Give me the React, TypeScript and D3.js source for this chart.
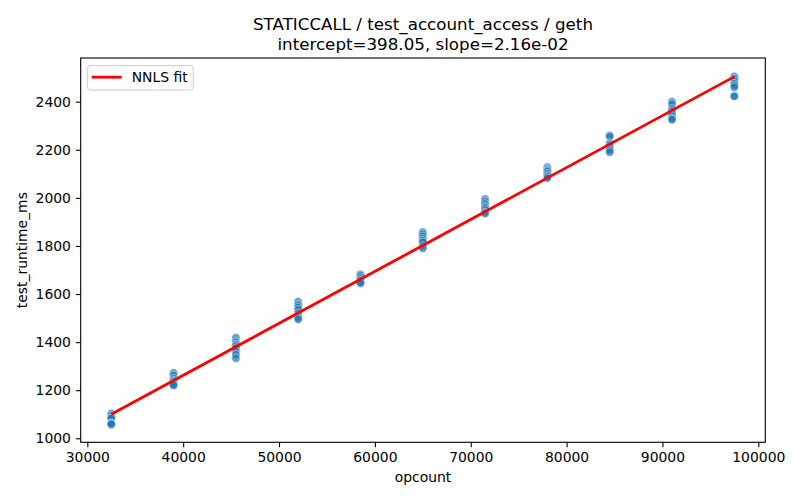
import React, { useEffect, useRef } from 'react';
import * as d3 from 'd3';

// opcount per benchmark group
const opcounts = [32500, 39000, 45500, 52000, 58500, 65000, 71500, 78000, 84500, 91000, 97500];

// measured runtimes (ms), one row per opcount
const runtimes = [
  [1103, 1095, 1088, 1082, 1062, 1058, 1056, 1060],
  [1272, 1262, 1248, 1240, 1235, 1228, 1224, 1220],
  [1418, 1400, 1390, 1383, 1375, 1360, 1348, 1333],
  [1568, 1555, 1545, 1535, 1520, 1508, 1500, 1495],
  [1683, 1680, 1677, 1670, 1662, 1655, 1648, 1645],
  [1858, 1850, 1840, 1830, 1822, 1815, 1800, 1790],
  [1995, 1985, 1975, 1965, 1958, 1950, 1940, 1935],
  [2128, 2120, 2115, 2110, 2102, 2095, 2088, 2082],
  [2260, 2255, 2228, 2222, 2215, 2205, 2198, 2190],
  [2400, 2390, 2370, 2360, 2350, 2340, 2330, 2325],
  [2505, 2495, 2485, 2475, 2468, 2460, 2425, 2422],
];

const intercept = 398.05;
const slope = 2.16e-2;

const xTicks = [30000, 40000, 50000, 60000, 70000, 80000, 90000, 100000];
const yTicks = [1000, 1200, 1400, 1600, 1800, 2000, 2200, 2400];

const FONT = '"DejaVu Sans", sans-serif';

export default function App() {
  const svgRef = useRef<SVGSVGElement>(null);
  const width = 800;
  const height = 500;

  useEffect(() => {
    if (!svgRef.current) return;
    const svg = d3.select(svgRef.current);
    svg.selectAll('*').remove();

    const margin = { top: 58, right: 34.7, bottom: 57.7, left: 80.7 };
    const innerWidth = width - margin.left - margin.right;
    const innerHeight = height - margin.top - margin.bottom;

    const points = opcounts.flatMap((x, i) => runtimes[i].map(y => ({ x, y })));

    const xScale = d3.scaleLinear().domain([29311, 100730]).range([0, innerWidth]);
    const yScale = d3.scaleLinear().domain([983.4, 2581.6]).range([innerHeight, 0]);

    const g = svg
      .append('g')
      .attr('transform', `translate(${margin.left},${margin.top})`);

    // scatter
    g.selectAll('.pt')
      .data(points)
      .enter()
      .append('circle')
      .attr('class', 'pt')
      .attr('cx', d => xScale(d.x))
      .attr('cy', d => yScale(d.y))
      .attr('r', 4.2)
      .attr('fill', '#1f77b4')
      .attr('fill-opacity', 0.7)
      .attr('stroke', 'white')
      .attr('stroke-opacity', 0.7)
      .attr('stroke-width', 0.7);

    // fit line
    const xMin = d3.min(opcounts) as number;
    const xMax = d3.max(opcounts) as number;
    const fit = [xMin, xMax].map(x => ({ x, y: intercept + slope * x }));
    g.append('path')
      .datum(fit)
      .attr('fill', 'none')
      .attr('stroke', 'red')
      .attr('stroke-width', 2.78)
      .attr('d', d3.line<{ x: number; y: number }>().x(d => xScale(d.x)).y(d => yScale(d.y)));

    // axes
    const xAxis = g.append('g')
      .attr('transform', `translate(0,${innerHeight})`)
      .call(d3.axisBottom(xScale).tickValues(xTicks).tickFormat(d3.format('d')).tickSize(4.9).tickPadding(4.9));
    const yAxis = g.append('g')
      .call(d3.axisLeft(yScale).tickValues(yTicks).tickFormat(d3.format('d')).tickSize(4.9).tickPadding(4.9));

    [xAxis, yAxis].forEach(ax => {
      ax.selectAll('.domain').remove();
      ax.selectAll('line').attr('stroke', 'black').attr('stroke-width', 1.1);
      ax.selectAll('text')
        .attr('fill', 'black')
        .style('font-family', FONT)
        .style('font-size', '13.9px');
    });

    // spines
    g.append('rect')
      .attr('width', innerWidth)
      .attr('height', innerHeight)
      .attr('fill', 'none')
      .attr('stroke', 'black')
      .attr('stroke-width', 1.1);

    // labels
    svg.append('text')
      .attr('x', margin.left + innerWidth / 2)
      .attr('y', 482)
      .attr('text-anchor', 'middle')
      .style('font-family', FONT)
      .style('font-size', '13.9px')
      .text('opcount');

    svg.append('text')
      .attr('transform', `translate(27,${margin.top + innerHeight / 2}) rotate(-90)`)
      .attr('text-anchor', 'middle')
      .style('font-family', FONT)
      .style('font-size', '13.9px')
      .text('test_runtime_ms');

    const title = svg.append('text')
      .attr('text-anchor', 'middle')
      .style('font-family', FONT)
      .style('font-size', '16.7px');
    title.append('tspan')
      .attr('x', margin.left + innerWidth / 2)
      .attr('y', 29.5)
      .text('STATICCALL / test_account_access / geth');
    title.append('tspan')
      .attr('x', margin.left + innerWidth / 2)
      .attr('y', 50)
      .text(`intercept=${intercept.toFixed(2)}, slope=${slope.toExponential(2).replace('e-', 'e-0')}`);

    // legend
    const lg = svg.append('g').attr('transform', 'translate(87.3,65.7)');
    lg.append('rect')
      .attr('width', 106)
      .attr('height', 24.3)
      .attr('rx', 2.8)
      .attr('fill', 'white')
      .attr('fill-opacity', 0.8)
      .attr('stroke', '#cccccc')
      .attr('stroke-width', 1);
    lg.append('line')
      .attr('x1', 4.4)
      .attr('x2', 34.4)
      .attr('y1', 11.5)
      .attr('y2', 11.5)
      .attr('stroke', 'red')
      .attr('stroke-width', 2.78);
    lg.append('text')
      .attr('x', 44.4)
      .attr('y', 16.5)
      .style('font-family', FONT)
      .style('font-size', '13.9px')
      .text('NNLS fit');
  }, []);

  return (
    <svg
      ref={svgRef}
      width={width}
      height={height}
      style={{ position: 'absolute', left: 0, top: 0, background: 'white' }}
    />
  );
}
